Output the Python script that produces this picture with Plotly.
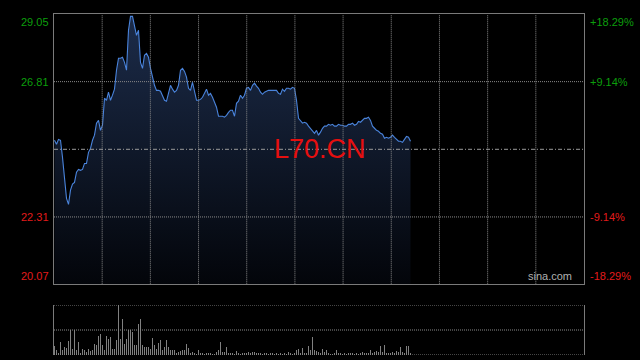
import plotly.graph_objects as go

# ---------------- data ----------------
prev_close = 24.56
prices = [
    24.86, 24.73, 24.89, 24.86, 24.29, 23.53, 22.93, 22.73, 23.20, 23.40,
    23.46, 23.80, 23.89, 23.86, 23.89, 24.09, 24.09, 24.46, 24.59, 24.86,
    25.03, 25.43, 25.52, 25.19, 25.36, 26.26, 26.19, 26.46, 26.19, 26.36,
    26.56, 27.19, 27.59, 27.59, 27.62, 27.45, 27.19, 28.52, 28.98, 28.98,
    28.62, 28.35, 28.52, 27.45, 27.25, 27.69, 27.75, 27.62, 27.25, 26.92,
    26.69, 26.52, 26.52, 26.49, 26.36, 26.19, 26.16, 26.42, 26.69, 26.56,
    26.46, 26.52, 26.69, 27.19, 27.25, 27.15, 26.96, 26.59, 26.52, 26.79,
    26.42, 26.19, 26.19, 26.22, 26.29, 26.42, 26.56, 26.36, 26.42, 26.29,
    26.09, 25.96, 25.66, 25.66, 25.66, 25.63, 25.69, 25.79, 25.86, 25.86,
    25.66, 26.09, 26.16, 26.36, 26.26, 26.36, 26.59, 26.62, 26.52, 26.69,
    26.76, 26.66, 26.59, 26.46, 26.39, 26.46, 26.49, 26.52, 26.52, 26.52,
    26.52, 26.52, 26.42, 26.39, 26.56, 26.49, 26.59, 26.59, 26.56, 26.62,
    26.59, 26.19, 25.59, 25.52, 25.43, 25.46, 25.43, 25.33, 25.26, 25.19,
    25.09, 25.19, 25.03, 25.13, 25.26, 25.33, 25.33, 25.39, 25.36, 25.39,
    25.33, 25.33, 25.39, 25.36, 25.36, 25.33, 25.33, 25.39, 25.39, 25.43,
    25.36, 25.39, 25.49, 25.46, 25.52, 25.59, 25.59, 25.63, 25.52, 25.33,
    25.26, 25.19, 25.16, 25.09, 25.06, 24.93, 24.96, 24.93, 24.96, 25.03,
    24.96, 24.89, 24.83, 24.83, 24.79, 24.89, 24.99, 24.96, 24.83,
]
volumes = [
    18, 10, 3, 27, 11, 17, 15, 29, 50, 13,
    50, 11, 27, 3, 13, 11, 7, 13, 9, 10,
    23, 20, 38, 43, 20, 11, 38, 33, 37, 13,
    13, 30, 100, 33, 72, 23, 33, 51, 51, 47,
    20, 20, 63, 73, 20, 17, 17, 17, 13, 35,
    20, 13, 25, 30, 11, 17, 31, 17, 10, 11,
    10, 5, 7, 9, 11, 11, 22, 15, 5, 7,
    5, 2, 10, 3, 3, 2, 3, 3, 5, 2,
    2, 7, 11, 27, 7, 7, 17, 3, 3, 5,
    2, 9, 3, 2, 3, 5, 3, 7, 3, 7,
    7, 5, 3, 3, 2, 3, 3, 2, 3, 5,
    2, 3, 2, 3, 2, 5, 2, 7, 3, 2,
    3, 10, 13, 5, 15, 3, 5, 18, 10, 37,
    10, 9, 7, 5, 13, 7, 10, 3, 2, 2,
    3, 10, 5, 3, 2, 3, 2, 3, 5, 3,
    2, 3, 2, 3, 7, 3, 5, 3, 11, 5,
    7, 9, 7, 18, 7, 20, 3, 5, 3, 7,
    5, 9, 7, 17, 7, 3, 18, 18, 3,
]
minutes = list(range(len(prices)))
session_len = 265          # full-session length in the same minute units
n_vsections = 11
left_ticks = [29.05, 26.81, 22.31, 20.07]
right_labels = ["+18.29%", "+9.14%", "-9.14%", "-18.29%"]
label_colors = ["#0c9e0c", "#0c9e0c", "#e31b1b", "#e31b1b"]
symbol = "L70.CN"
watermark = "sina.com"

# ---------------- figure ----------------
y_lo, y_hi = left_ticks[-1], left_ticks[0]
x_lo = -0.25
x_hi = x_lo + session_len
vmax = max(volumes)

fig = go.Figure()
fig.add_trace(go.Scatter(
    x=minutes, y=prices, mode="lines",
    line=dict(color="#4a84dc", width=1.1),
    fill="tozeroy",
    fillgradient=dict(type="vertical", start=y_lo, stop=y_hi,
                      colorscale=[[0, "#03050a"], [1, "#1c2c4a"]]),
    hoverinfo="skip", xaxis="x", yaxis="y",
))
fig.add_trace(go.Bar(
    x=minutes, y=volumes, width=0.5,
    marker=dict(color="#808080", line=dict(width=0)),
    hoverinfo="skip", xaxis="x2", yaxis="y2",
))

grid_col = "#8a8a8a"
border_col = "#7a7a7a"
dotted = "1px,1px"
xt = [x_lo + k * session_len / n_vsections for k in range(1, n_vsections)]

fig.update_layout(
    width=640, height=360,
    margin=dict(l=0, r=0, t=0, b=0),
    paper_bgcolor="#000000", plot_bgcolor="#000000",
    showlegend=False,
    bargap=0,
    xaxis=dict(domain=[54 / 640, 584 / 640], range=[x_lo, x_hi],
               showticklabels=False, ticks="", showgrid=False,
               showline=True, linecolor=border_col, linewidth=1, mirror=True,
               zeroline=False, anchor="y", layer="above traces"),
    yaxis=dict(domain=[(360 - 284.3) / 360, (360 - 14.3) / 360], range=[y_lo, y_hi],
               showticklabels=False, ticks="", showgrid=False,
               showline=True, linecolor=border_col, linewidth=1, mirror=True,
               zeroline=False, anchor="x", layer="above traces"),
    xaxis2=dict(domain=[54 / 640, 584 / 640], range=[x_lo, x_hi],
                showticklabels=False, ticks="", showgrid=False,
                showline=False, zeroline=False, anchor="y2"),
    yaxis2=dict(domain=[5 / 360, 55 / 360], range=[0, vmax],
                showticklabels=False, ticks="", showgrid=False,
                showline=True, linecolor=border_col, linewidth=1, mirror=True,
                zeroline=False, anchor="x2"),
)

# grid (drawn above the area fill, as in the original)
for xv in xt:
    fig.add_shape(type="line", xref="x", yref="y", x0=xv, x1=xv, y0=y_lo, y1=y_hi,
                  layer="above", line=dict(color=grid_col, width=1, dash=dotted))
for yv in left_ticks[1:3]:
    fig.add_shape(type="line", xref="x", yref="y", x0=x_lo, x1=x_hi, y0=yv, y1=yv,
                  layer="above", line=dict(color=grid_col, width=1, dash=dotted))
for yv in [0, vmax / 2, vmax]:
    fig.add_shape(type="line", xref="x2", yref="y2", x0=x_lo, x1=x_hi, y0=yv, y1=yv,
                  layer="above", line=dict(color=grid_col, width=1, dash=dotted))

# previous close dash-dot line
fig.add_shape(type="line", xref="x", yref="y", x0=x_lo, x1=x_hi,
              y0=prev_close, y1=prev_close, layer="above",
              line=dict(color="#9a9a9a", width=1, dash="4px,2px,1px,2px"))

font_family = "Liberation Sans, Arial, sans-serif"
anchors = ["top", "middle", "middle", "bottom"]
for v, lab, col, anc in zip(left_ticks, right_labels, label_colors, anchors):
    fig.add_annotation(x=54 / 640, xref="paper", y=v, yref="y", text=f"{v:.2f}",
                       showarrow=False, xanchor="right", yanchor=anc, xshift=-3,
                       font=dict(family=font_family, size=11, color=col))
    fig.add_annotation(x=584 / 640, xref="paper", y=v, yref="y", text=lab,
                       showarrow=False, xanchor="left", yanchor=anc, xshift=4,
                       font=dict(family=font_family, size=11, color=col))

fig.add_annotation(x=0.5, xref="paper", y=prev_close, yref="y", text=symbol,
                   showarrow=False, xanchor="center", yanchor="middle",
                   font=dict(family=font_family, size=27, color="#e60f0f"))
fig.add_annotation(x=584 / 640, xref="paper", y=y_lo, yref="y", text=watermark,
                   showarrow=False, xanchor="right", yanchor="bottom", xshift=-10,
                   font=dict(family=font_family, size=11, color="#b0b0b0"))

fig.write_html("out.html")
